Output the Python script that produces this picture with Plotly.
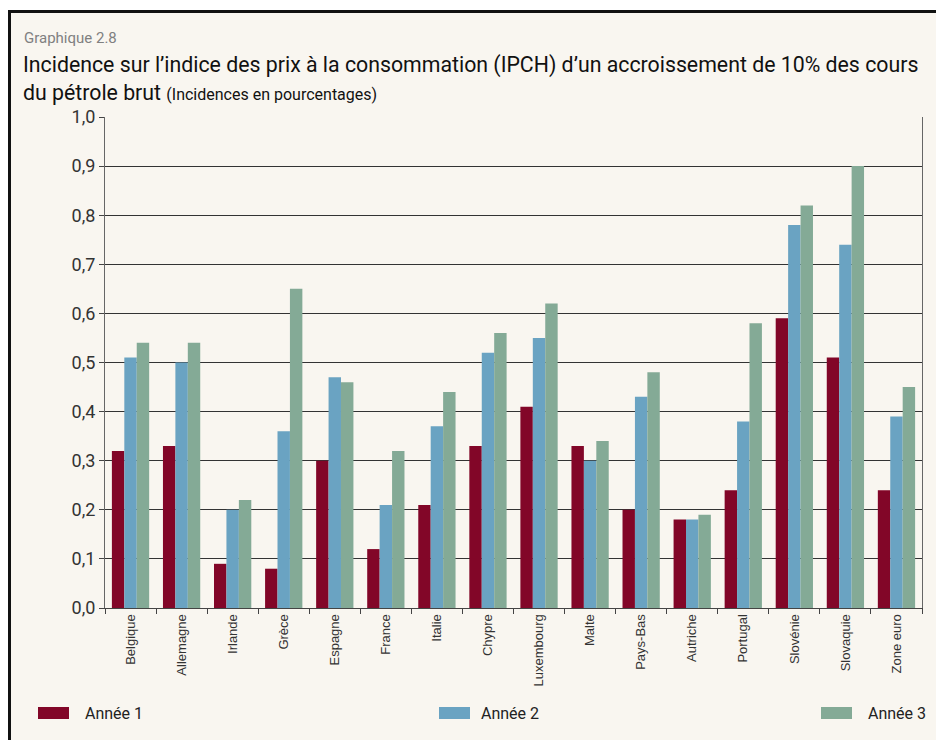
import plotly.graph_objects as go

countries = ["Belgique", "Allemagne", "Irlande", "Grèce", "Espagne", "France", "Italie",
             "Chypre", "Luxembourg", "Malte", "Pays-Bas", "Autriche", "Portugal",
             "Slovénie", "Slovaquie", "Zone euro"]
annee_1 = [0.32, 0.33, 0.09, 0.08, 0.30, 0.12, 0.21, 0.33, 0.41, 0.33, 0.20, 0.18, 0.24, 0.59, 0.51, 0.24]
annee_2 = [0.51, 0.50, 0.20, 0.36, 0.47, 0.21, 0.37, 0.52, 0.55, 0.30, 0.43, 0.18, 0.38, 0.78, 0.74, 0.39]
annee_3 = [0.54, 0.54, 0.22, 0.65, 0.46, 0.32, 0.44, 0.56, 0.62, 0.34, 0.48, 0.19, 0.58, 0.82, 0.90, 0.45]
y_ticks = [0.0, 0.1, 0.2, 0.3, 0.4, 0.5, 0.6, 0.7, 0.8, 0.9, 1.0]

BG = "#f9f6f0"
FONT = "Roboto, Arial, sans-serif"
W, H = 944, 740
L, T, R, B = 97, 109, 30, 140
PW, PH = W - L - R, H - T - B


def px(x):
    return (x - L) / PW


def py(y):
    return (H - B - y) / PH


series = [
    ("Année 1", annee_1, "#820628", 30, 75),
    ("Année 2", annee_2, "#6aa3c2", 431, 471),
    ("Année 3", annee_3, "#84aa96", 813, 858),
]

fig = go.Figure()
for name, values, color, sx, tx in series:
    fig.add_trace(go.Bar(x=countries, y=values, name=name, marker_color=color,
                         marker_line_width=0, showlegend=False))
    # legend swatch + label
    fig.add_shape(type="rect", xref="paper", yref="paper",
                  x0=px(sx), x1=px(sx + 31), y0=py(711), y1=py(699),
                  fillcolor=color, line_width=0)
    fig.add_annotation(xref="paper", yref="paper", x=px(tx), y=py(705),
                       xanchor="left", yanchor="middle", text=name, showarrow=False,
                       font=dict(family=FONT, size=16, color="#222"))

fig.update_layout(
    width=W, height=H,
    paper_bgcolor="white", plot_bgcolor=BG,
    margin=dict(l=L, r=R, t=T, b=B),
    barmode="group", bargap=0.27, bargroupgap=0,
    separators=",.",
)
fig.update_xaxes(
    tickangle=-90, tickfont=dict(family="Liberation Sans, Arial", size=13, color="#333"),
    ticks="outside", tickson="boundaries", ticklen=5, tickcolor="#444",
    showline=True, linecolor="#444", linewidth=1, showgrid=False,
)
fig.update_yaxes(
    range=[0, 1.0], tickvals=y_ticks, tickformat=".1f",
    tickfont=dict(family=FONT, size=18, color="#333"),
    ticks="outside", ticklen=5, tickcolor="#444",
    showline=True, linecolor="#666", linewidth=1, mirror=True,
    showgrid=True, gridcolor="#333", gridwidth=1, zeroline=False,
)

# outer frame of the panel
fig.add_shape(type="rect", xref="paper", yref="paper",
              x0=px(1.5), x1=px(W + 20), y0=py(H + 20), y1=py(3.5),
              line=dict(color="#111", width=3), fillcolor=BG, layer="below")

fig.add_annotation(xref="paper", yref="paper", x=px(14), y=py(30), xanchor="left", yanchor="middle",
                   text="Graphique 2.8", showarrow=False,
                   font=dict(family=FONT, size=15, color="#808080"))
fig.add_annotation(xref="paper", yref="paper", x=px(13), y=py(42), xanchor="left", yanchor="top",
                   align="left", showarrow=False,
                   text=("Incidence sur l’indice des prix à la consommation (IPCH) d’un accroissement de 10% des cours"
                         "<br>du pétrole brut <span style='font-size:16px'>(Incidences en pourcentages)</span>"),
                   font=dict(family=FONT, size=21.3, color="#111"))

fig.write_html("out.html")
